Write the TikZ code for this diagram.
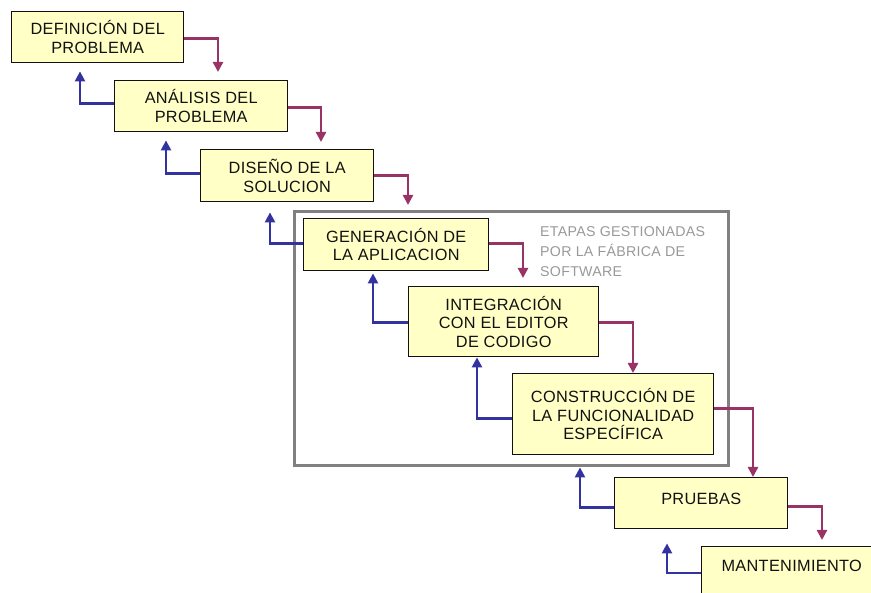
\documentclass[tikz,border=0pt]{standalone}
\usepackage{fontspec}
\setmainfont{Liberation Sans}[LetterSpace=2.0]
\usetikzlibrary{arrows.meta}

\definecolor{boxfill}{HTML}{FFFFC6}
\definecolor{fwdcol}{HTML}{993366}
\definecolor{backcol}{HTML}{3333A0}
\definecolor{framecol}{HTML}{808080}
\definecolor{notecol}{HTML}{999999}
\definecolor{inkcol}{HTML}{111111}

\tikzset{
  stage/.style={draw=inkcol, line width=1.4pt, fill=boxfill, anchor=north west,
    align=center, inner sep=0pt, text=inkcol,
    font=\fontsize{16.3}{18.5}\selectfont},
  groupframe/.style={draw=framecol, line width=3.2pt, anchor=north west, inner sep=0pt},
  notetext/.style={anchor=north west, align=left, inner sep=0pt, text=notecol,
    font=\fontsize{14.2}{20}\selectfont},
  flowtip/.style={-{Triangle[width=10pt,length=10pt]}},
  fwdarrow/.style={draw=fwdcol, line width=2.4pt, flowtip},
  backarrow/.style={draw=backcol, line width=2.4pt, flowtip},
}

\begin{document}
\begin{tikzpicture}[x=1pt, y=-1pt]
  \useasboundingbox (0,0) rectangle (871,593);
  \clip (0,0) rectangle (871,593);
  \fill[white] (0,0) rectangle (871,593);

  % group of stages handled by the software factory
  \node[groupframe, minimum width=434pt, minimum height=254pt] (group) at (293,210) {};
  \node[notetext] (note) at (540,226) {ETAPAS GESTIONADAS\\POR LA FÁBRICA DE\\SOFTWARE};

  % stages
  \node[stage, minimum width=172pt, minimum height=51pt] (b1) at (11,11) {DEFINICIÓN DEL\\PROBLEMA};
  \node[stage, minimum width=173pt, minimum height=51pt] (b2) at (114,80) {ANÁLISIS DEL\\PROBLEMA};
  \node[stage, minimum width=173pt, minimum height=52pt] (b3) at (200,149) {DISEÑO DE LA\\SOLUCION};
  \node[stage, minimum width=185pt, minimum height=52pt] (b4) at (303,218) {GENERACIÓN DE\\LA APLICACION};
  \node[stage, minimum width=190pt, minimum height=70pt] (b5) at (408,286) {INTEGRACIÓN\\CON EL EDITOR\\DE CODIGO};
  \node[stage, minimum width=201pt, minimum height=81pt] (b6) at (512,373) {CONSTRUCCIÓN DE\\LA FUNCIONALIDAD\\ESPECÍFICA};
  \node[stage, minimum width=173pt, minimum height=51pt, text depth=8pt] (b7) at (614,477) {PRUEBAS};
  \node[stage, minimum width=180pt, minimum height=60pt, text depth=22pt] (b8) at (701,546) {MANTENIMIENTO};

  % forward flow
  \draw[fwdarrow, shorten >=8pt] ([yshift=-1.5pt]b1.east) -| ([xshift=104pt]b2.north west);
  \draw[fwdarrow, shorten >=7pt] ([yshift=-1.5pt]b2.east) -| ([xshift=121pt]b3.north west);
  \draw[fwdarrow, shorten >=13pt] (b3.east) -| ([xshift=105pt]b4.north west);
  \draw[fwdarrow, shorten >=8pt] ([yshift=1pt]b4.east) -| ([xshift=115pt]b5.north west);
  \draw[fwdarrow] ([yshift=-1pt]b5.east) -| ([xshift=121pt]b6.north west);
  \draw[fwdarrow] ([yshift=5.5pt]b6.east) -| ([xshift=139pt]b7.north west);
  \draw[fwdarrow, shorten >=6pt] ([yshift=-3.5pt]b7.east) -| ([xshift=121pt]b8.north west);

  % feedback flow
  \draw[backarrow, shorten >=8pt] ([yshift=2.5pt]b2.west) -| ([xshift=69pt]b1.south west);
  \draw[backarrow, shorten >=8pt] ([yshift=2pt]b3.west) -| ([xshift=52pt]b2.south west);
  \draw[backarrow, shorten >=10pt] ([yshift=1pt]b4.west) -| ([xshift=70pt]b3.south west);
  \draw[backarrow, shorten >=2pt] ([yshift=-1pt]b5.west) -| ([xshift=70pt]b4.south west);
  \draw[backarrow] ([yshift=-4.5pt]b6.west) -| ([xshift=69pt]b5.south west);
  \draw[backarrow, shorten >=12pt] ([yshift=-4.5pt]b7.west) -| ([xshift=68pt]b6.south west);
  \draw[backarrow, shorten >=14pt] ([yshift=-27pt]b8.north west) -| ([xshift=53pt]b7.south west);
\end{tikzpicture}
\end{document}
